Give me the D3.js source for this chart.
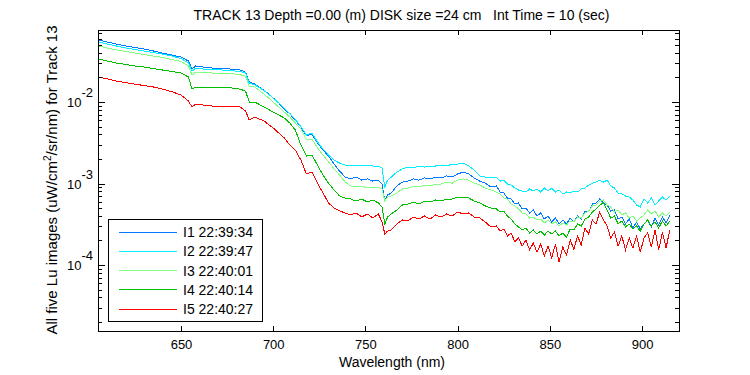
<!DOCTYPE html>
<html><head><meta charset="utf-8">
<script src="https://cdn.jsdelivr.net/npm/d3@7"></script>
<style>
body{margin:0;background:#fff}
text{font-family:"Liberation Sans",Arial,Helvetica,sans-serif;fill:#000}
</style>
</head><body><svg id="c" width="750" height="375"></svg>
<script>
const titleText = "TRACK 13 Depth =0.00 (m) DISK size =24 cm   Int Time = 10 (sec)";
const xLabel = "Wavelength (nm)";
const seriesNames = ["I1 22:39:34","I2 22:39:47","I3 22:40:01","I4 22:40:14","I5 22:40:27"];
const colors = ["#0078ff","#00f0ff","#80ff80","#00c000","#ff0000"];
const xTicks = [650,700,750,800,850,900];
const yMajorTicks = [1e-2,1e-3,1e-4];
const yMajorExp = ["-2","-3","-4"];
const xDomain = [605, 920];
const yDomain = [1.55e-5, 7.65e-2];

const wavelengths = [605,610,615,620,625,630,635,640,645,650,654,656,658,662,667,672,677,682,685,687,690,695,700,
 703,706,709,712,715,718,721,724,727,730,733,736,739,742,745,748,751,754,757,
 759,760.5,762,764,767,
 770,773,776,779,782,785,788,791,794,797,800,803,806,809,812,815,818,
 821,823,825,827,829,831,833,835,837,839,841,843,845,847,849,851,853,855,857,859,
 861,863,865,867,869,871,873,875,877,879,881,883,885,887,889,891,893,895,897,899,
 901,903,905,907,909,911,913,915];

const I1 = [5.77e-2,5.45e-2,5.15e-2,4.87e-2,4.66e-2,4.47e-2,4.23e-2,3.99e-2,3.77e-2,3.57e-2,3.19e-2,2.54e-2,2.77e-2,2.69e-2,2.61e-2,2.57e-2,2.54e-2,2.47e-2,2.33e-2,1.76e-2,1.66e-2,1.40e-2,1.12e-2,
 9.72e-3,8.20e-3,7.13e-3,6.02e-3,4.94e-3,3.83e-3,4.05e-3,3.14e-3,2.57e-3,2.17e-3,1.73e-3,1.42e-3,1.20e-3,1.14e-3,1.20e-3,1.10e-3,1.14e-3,1.07e-3,1.10e-3,
 9.86e-4,6.10e-4,7.23e-4,7.65e-4,9.32e-4,
 1.04e-3,1.07e-3,1.14e-3,1.10e-3,1.17e-3,1.14e-3,1.20e-3,1.17e-3,1.24e-3,1.20e-3,1.31e-3,1.38e-3,1.31e-3,1.17e-3,1.07e-3,1.01e-3,9.06e-4,
 9.32e-4,7.87e-4,7.65e-4,6.64e-4,6.45e-4,5.60e-4,5.77e-4,4.87e-4,5.01e-4,4.35e-4,4.73e-4,3.99e-4,4.35e-4,3.67e-4,3.99e-4,3.37e-4,3.77e-4,3.19e-4,3.57e-4,3.19e-4,
 3.77e-4,3.37e-4,3.99e-4,3.67e-4,4.60e-4,4.47e-4,5.60e-4,5.77e-4,6.45e-4,5.77e-4,5.45e-4,4.60e-4,4.73e-4,3.67e-4,3.88e-4,3.19e-4,3.67e-4,2.85e-4,3.37e-4,2.77e-4,
 3.19e-4,3.57e-4,2.93e-4,3.77e-4,3.10e-4,3.88e-4,3.28e-4,4.11e-4];

const I2 = [5.45e-2,5.15e-2,4.87e-2,4.60e-2,4.41e-2,4.23e-2,4.05e-2,3.88e-2,3.67e-2,3.42e-2,3.01e-2,2.40e-2,2.61e-2,2.54e-2,2.50e-2,2.47e-2,2.43e-2,2.37e-2,2.27e-2,1.71e-2,1.62e-2,1.38e-2,1.12e-2,
 9.72e-3,8.32e-3,7.23e-3,6.10e-3,5.01e-3,3.93e-3,4.17e-3,3.23e-3,2.65e-3,2.24e-3,1.94e-3,1.78e-3,1.68e-3,1.64e-3,1.68e-3,1.64e-3,1.68e-3,1.64e-3,1.64e-3,
 1.55e-3,9.06e-4,1.10e-3,1.20e-3,1.38e-3,
 1.51e-3,1.59e-3,1.55e-3,1.64e-3,1.59e-3,1.64e-3,1.64e-3,1.68e-3,1.64e-3,1.73e-3,1.73e-3,1.78e-3,1.64e-3,1.46e-3,1.24e-3,1.20e-3,1.17e-3,
 1.20e-3,1.07e-3,1.10e-3,9.86e-4,9.58e-4,8.81e-4,8.32e-4,8.09e-4,7.87e-4,8.56e-4,8.09e-4,8.56e-4,7.87e-4,8.81e-4,8.09e-4,8.81e-4,7.87e-4,8.32e-4,7.43e-4,7.87e-4,
 7.65e-4,8.09e-4,7.87e-4,8.56e-4,8.81e-4,9.58e-4,1.01e-3,1.04e-3,1.10e-3,1.04e-3,1.10e-3,9.32e-4,8.81e-4,7.65e-4,7.43e-4,7.03e-4,6.83e-4,6.28e-4,5.45e-4,5.15e-4,
 6.45e-4,5.77e-4,6.64e-4,5.45e-4,6.10e-4,6.83e-4,6.28e-4,7.03e-4];

const I3 = [4.87e-2,4.60e-2,4.35e-2,4.17e-2,3.99e-2,3.83e-2,3.67e-2,3.52e-2,3.32e-2,3.14e-2,2.77e-2,2.14e-2,2.33e-2,2.30e-2,2.27e-2,2.27e-2,2.24e-2,2.17e-2,2.08e-2,1.53e-2,1.53e-2,1.25e-2,1.00e-2,
 8.68e-3,7.54e-3,6.54e-3,5.52e-3,4.66e-3,3.42e-3,3.52e-3,2.73e-3,2.24e-3,1.84e-3,1.51e-3,1.27e-3,1.04e-3,9.32e-4,9.06e-4,9.32e-4,8.81e-4,9.06e-4,9.06e-4,
 8.56e-4,6.10e-4,6.83e-4,7.03e-4,7.65e-4,
 8.56e-4,8.81e-4,9.32e-4,9.06e-4,9.58e-4,9.32e-4,9.86e-4,9.86e-4,1.04e-3,1.01e-3,1.10e-3,1.14e-3,1.10e-3,1.01e-3,9.58e-4,8.81e-4,8.32e-4,
 7.87e-4,7.43e-4,6.64e-4,6.45e-4,5.60e-4,5.30e-4,4.87e-4,4.35e-4,4.23e-4,3.77e-4,3.88e-4,3.57e-4,3.67e-4,3.28e-4,3.57e-4,3.19e-4,3.37e-4,3.01e-4,3.28e-4,3.10e-4,
 3.47e-4,3.37e-4,3.88e-4,3.77e-4,4.35e-4,4.60e-4,5.30e-4,5.45e-4,6.10e-4,6.28e-4,5.45e-4,5.15e-4,4.47e-4,4.73e-4,4.11e-4,4.35e-4,3.77e-4,3.99e-4,3.47e-4,3.77e-4,
 4.11e-4,4.73e-4,4.23e-4,4.60e-4,3.88e-4,4.35e-4,3.99e-4,4.47e-4];

const I4 = [3.37e-2,3.19e-2,3.01e-2,2.89e-2,2.77e-2,2.69e-2,2.57e-2,2.47e-2,2.37e-2,2.27e-2,2.03e-2,1.44e-2,1.53e-2,1.51e-2,1.51e-2,1.49e-2,1.49e-2,1.44e-2,1.36e-2,1.00e-2,1.00e-2,8.68e-3,7.54e-3,
 6.93e-3,6.36e-3,5.52e-3,4.53e-3,2.97e-3,2.17e-3,2.24e-3,1.68e-3,1.27e-3,1.01e-3,8.32e-4,7.03e-4,6.64e-4,6.45e-4,6.10e-4,6.45e-4,5.93e-4,6.28e-4,5.77e-4,
 5.15e-4,3.19e-4,3.88e-4,4.23e-4,4.73e-4,
 5.45e-4,5.60e-4,5.93e-4,5.60e-4,6.10e-4,5.93e-4,6.28e-4,6.10e-4,6.45e-4,6.45e-4,6.83e-4,6.83e-4,6.64e-4,6.10e-4,5.77e-4,5.30e-4,5.01e-4,
 4.87e-4,4.47e-4,4.60e-4,3.99e-4,3.67e-4,3.19e-4,2.93e-4,2.69e-4,2.85e-4,2.47e-4,2.69e-4,2.40e-4,2.61e-4,2.33e-4,2.61e-4,2.40e-4,2.61e-4,2.27e-4,2.47e-4,2.21e-4,
 2.77e-4,2.69e-4,3.19e-4,3.01e-4,3.67e-4,3.88e-4,4.47e-4,4.87e-4,5.45e-4,5.77e-4,4.73e-4,3.77e-4,3.99e-4,3.19e-4,3.47e-4,2.93e-4,3.19e-4,2.77e-4,3.01e-4,2.61e-4,
 3.19e-4,3.57e-4,3.01e-4,3.37e-4,2.85e-4,3.47e-4,3.01e-4,3.47e-4];

const I5 = [2.03e-2,1.92e-2,1.81e-2,1.73e-2,1.66e-2,1.59e-2,1.53e-2,1.44e-2,1.34e-2,1.22e-2,1.03e-2,8.68e-3,9.45e-3,9.19e-3,8.93e-3,8.93e-3,8.93e-3,8.68e-3,7.76e-3,6.02e-3,6.54e-3,5.85e-3,4.80e-3,
 4.17e-3,3.62e-3,2.97e-3,2.57e-3,1.94e-3,1.31e-3,1.38e-3,1.01e-3,7.65e-4,5.77e-4,5.01e-4,4.60e-4,4.35e-4,4.11e-4,4.35e-4,3.88e-4,4.23e-4,3.77e-4,4.23e-4,
 3.37e-4,2.40e-4,2.61e-4,2.69e-4,3.19e-4,
 3.57e-4,3.47e-4,3.88e-4,3.67e-4,3.99e-4,3.67e-4,4.11e-4,3.88e-4,4.23e-4,3.99e-4,4.47e-4,4.23e-4,4.35e-4,3.88e-4,3.77e-4,3.37e-4,2.93e-4,
 3.01e-4,2.61e-4,2.77e-4,2.27e-4,2.47e-4,1.92e-4,2.14e-4,1.71e-4,2.03e-4,1.53e-4,1.86e-4,1.44e-4,1.81e-4,1.29e-4,1.71e-4,1.22e-4,1.81e-4,1.09e-4,1.66e-4,1.33e-4,
 2.03e-4,1.57e-4,2.27e-4,1.76e-4,2.85e-4,2.40e-4,3.57e-4,3.19e-4,4.47e-4,3.57e-4,3.01e-4,2.14e-4,2.54e-4,1.71e-4,2.27e-4,1.53e-4,2.14e-4,1.62e-4,2.27e-4,1.44e-4,
 2.14e-4,2.47e-4,1.66e-4,2.69e-4,1.53e-4,2.54e-4,1.62e-4,2.69e-4];

const series = [I1, I2, I3, I4, I5];

const svg = d3.select("#c");
const M = {left: 98, right: 679, top: 30, bottom: 331};
const x = d3.scaleLinear().domain(xDomain).range([M.left, M.right]);
const y = d3.scaleLog().domain(yDomain).range([M.bottom, M.top]);

svg.append("rect").attr("width", 750).attr("height", 375).attr("fill", "#fff");
svg.append("defs").append("clipPath").attr("id", "clip").append("rect")
  .attr("x", M.left).attr("y", M.top).attr("width", M.right - M.left).attr("height", M.bottom - M.top);

// data lines
const line = d3.line().x((d, i) => x(wavelengths[i])).y(d => y(d));
svg.append("g").attr("clip-path", "url(#clip)")
  .selectAll("path").data(series).join("path")
  .attr("d", line).attr("fill", "none")
  .attr("stroke", (d, i) => colors[i]).attr("stroke-width", 1)
  .attr("shape-rendering", "crispEdges");

// axes
function styleAxis(g) {
  g.select(".domain").remove();
  g.selectAll("line").attr("stroke", "#000").attr("shape-rendering", "crispEdges");
  g.selectAll("text").attr("font-size", 13).attr("font-family", "Liberation Sans, Arial, sans-serif");
}
svg.append("g").attr("transform", `translate(0,${M.bottom})`)
  .call(d3.axisBottom(x).tickValues(xTicks).tickSize(-5).tickPadding(9).tickFormat(d3.format("d")))
  .call(styleAxis);
svg.append("g").attr("transform", `translate(0,${M.top})`)
  .call(d3.axisTop(x).tickValues(xTicks).tickSize(-5).tickFormat(""))
  .call(styleAxis);

const minor = [];
for (let e = -5; e <= -1; e++) for (let m = 2; m <= 9; m++) {
  const v = m * Math.pow(10, e);
  if (v > yDomain[0] && v < yDomain[1]) minor.push(v);
}
[[d3.axisLeft, M.left], [d3.axisRight, M.right]].forEach(([ax, pos]) => {
  svg.append("g").attr("transform", `translate(${pos},0)`)
    .call(ax(y).tickValues(yMajorTicks).tickSize(-7).tickFormat(""))
    .call(styleAxis);
  svg.append("g").attr("transform", `translate(${pos},0)`)
    .call(ax(y).tickValues(minor).tickSize(-4).tickFormat(""))
    .call(styleAxis);
});

// y tick labels with superscripts
const yl = svg.append("g");
yMajorTicks.forEach((v, i) => {
  const t = yl.append("text").attr("x", 93).attr("y", y(v) + 5).attr("text-anchor", "end").attr("font-size", 13);
  t.append("tspan").text("10");
  t.append("tspan").attr("dy", -10).text(yMajorExp[i]);
});

// frame
svg.append("rect").attr("x", M.left).attr("y", M.top)
  .attr("width", M.right - M.left).attr("height", M.bottom - M.top)
  .attr("fill", "none").attr("stroke", "#000").attr("shape-rendering", "crispEdges");

// title & labels
svg.append("text").attr("x", 401.5).attr("y", 20).attr("text-anchor", "middle")
  .attr("font-size", 14).style("white-space", "pre").text(titleText);
svg.append("text").attr("x", 392).attr("y", 367).attr("text-anchor", "middle")
  .attr("font-size", 14).text(xLabel);
const ylab = svg.append("text").attr("transform", "translate(57,180) rotate(-90)")
  .attr("text-anchor", "middle").attr("font-size", 15);
ylab.append("tspan").text("All five Lu images (uW/cm");
ylab.append("tspan").attr("dy", -6).attr("font-size", 10).text("2");
ylab.append("tspan").attr("dy", 6).text("/sr/nm) for Track 13");

// legend
const lg = svg.append("g");
lg.append("rect").attr("x", 108).attr("y", 219).attr("width", 154).attr("height", 102)
  .attr("fill", "#fff").attr("stroke", "#000").attr("shape-rendering", "crispEdges");
seriesNames.forEach((name, i) => {
  const yy = 232 + i * 19.3;
  lg.append("line").attr("x1", 119).attr("x2", 177).attr("y1", yy).attr("y2", yy)
    .attr("stroke", colors[i]).attr("shape-rendering", "crispEdges");
  lg.append("text").attr("x", 183).attr("y", yy + 5).attr("font-size", 14).text(name);
});
</script>
</body></html>
